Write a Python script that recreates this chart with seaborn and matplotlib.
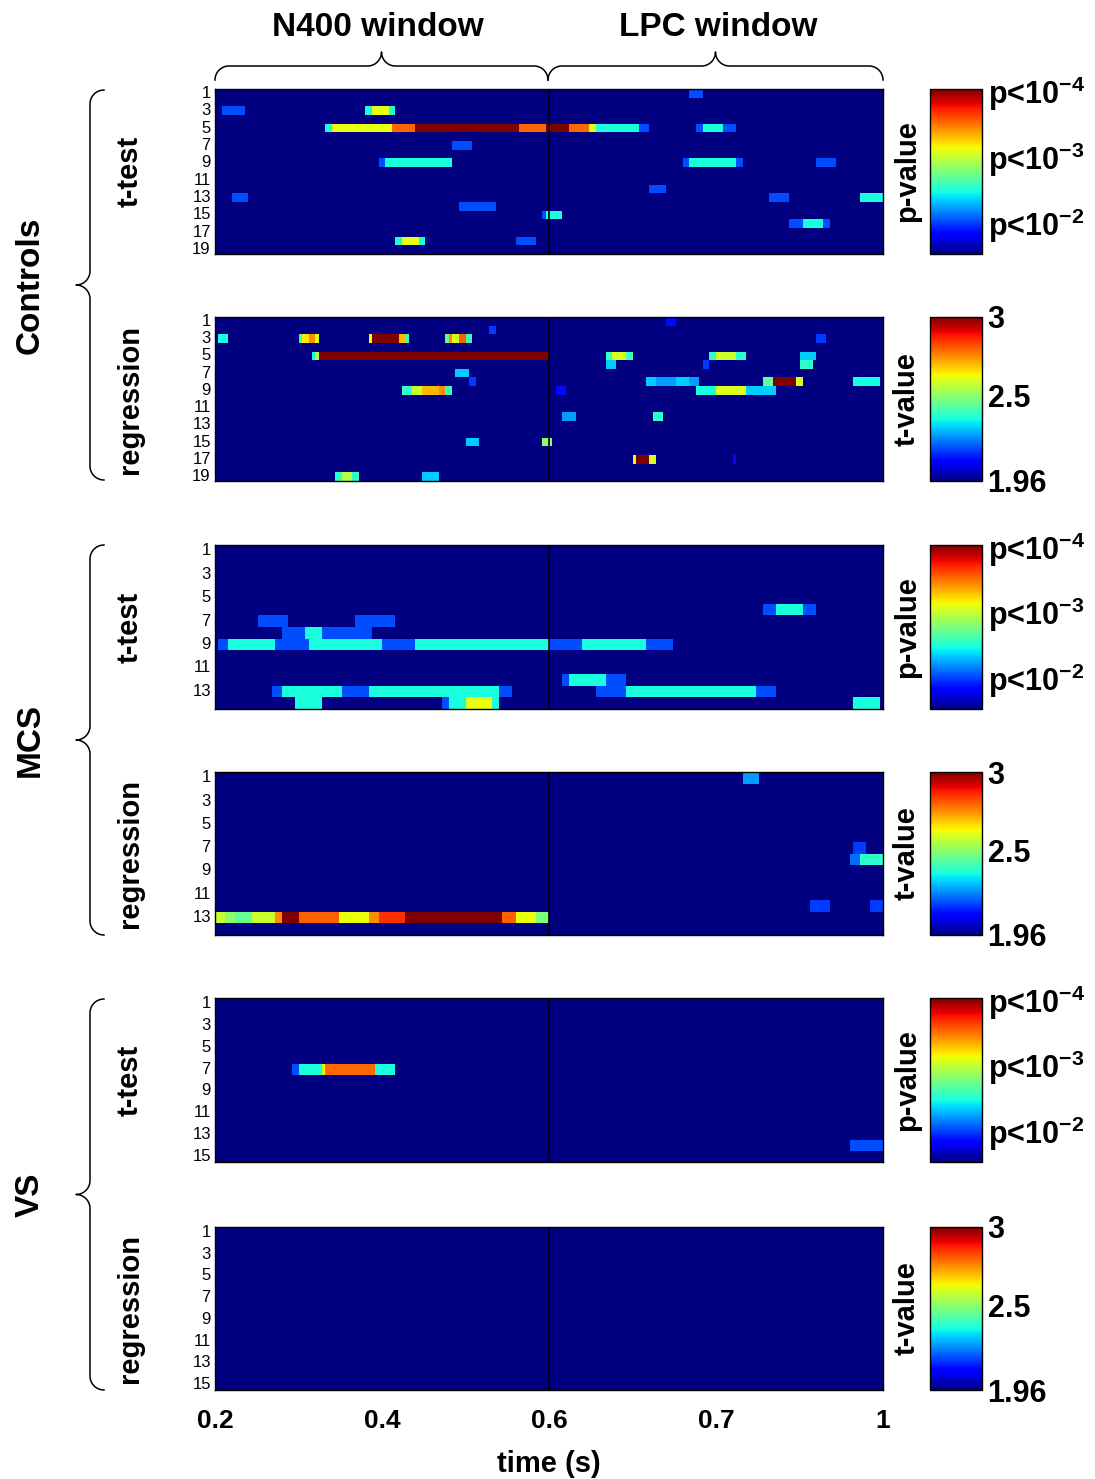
import numpy as np
import pandas as pd
import seaborn as sns
import matplotlib.pyplot as plt

# Significant samples per subject: (subject, t_start [s], t_end [s], value)
# t-test panels: value = -log10(p); regression panels: value = t-value
ctrl_ttest_segs = [
    (1, 0.683, 0.693, 2.0),
    (3, 0.208, 0.236, 2.0), (3, 0.379, 0.388, 2.45), (3, 0.388, 0.409, 3.08), (3, 0.409, 0.418, 2.45),
    (5, 0.332, 0.340, 2.45), (5, 0.340, 0.413, 3.08), (5, 0.413, 0.441, 3.5), (5, 0.441, 0.564, 4.0),
    (5, 0.564, 0.596, 3.5), (5, 0.596, 0.612, 4.0), (5, 0.612, 0.6245, 3.5), (5, 0.6245, 0.628, 3.08),
    (5, 0.628, 0.653, 2.45), (5, 0.653, 0.660, 2.0),
    (5, 0.689, 0.693, 2.0), (5, 0.693, 0.703, 2.45), (5, 0.703, 0.711, 2.0),
    (7, 0.485, 0.509, 2.0),
    (9, 0.397, 0.405, 2.0), (9, 0.405, 0.483, 2.45),
    (9, 0.679, 0.683, 2.0), (9, 0.683, 0.713, 2.45), (9, 0.713, 0.717, 2.0), (9, 0.759, 0.771, 2.0),
    (12, 0.659, 0.670, 2.0),
    (13, 0.221, 0.241, 2.0), (13, 0.733, 0.745, 2.0), (13, 0.786, 0.799, 2.45),
    (14, 0.491, 0.534, 2.0),
    (15, 0.591, 0.595, 2.0), (15, 0.595, 0.607, 2.45),
    (16, 0.743, 0.751, 2.0), (16, 0.751, 0.765, 2.45), (16, 0.765, 0.769, 2.0),
    (18, 0.417, 0.425, 2.45), (18, 0.425, 0.445, 3.08), (18, 0.445, 0.451, 2.45),
    (18, 0.561, 0.585, 2.0),
]

ctrl_regr_segs = [
    (1, 0.670, 0.675, 2.1),
    (2, 0.529, 0.536, 2.15),
    (3, 0.206, 0.218, 2.35),
    (3, 0.301, 0.305, 2.4), (3, 0.305, 0.312, 2.65), (3, 0.312, 0.320, 2.75), (3, 0.320, 0.325, 2.6),
    (3, 0.383, 0.388, 2.6), (3, 0.388, 0.420, 3.0), (3, 0.420, 0.428, 2.7), (3, 0.428, 0.433, 2.4),
    (3, 0.476, 0.480, 2.45), (3, 0.480, 0.486, 2.75), (3, 0.486, 0.492, 2.6), (3, 0.492, 0.500, 2.8),
    (3, 0.500, 0.508, 2.4),
    (3, 0.760, 0.766, 2.15),
    (5, 0.317, 0.321, 2.35), (5, 0.321, 0.325, 2.55), (5, 0.325, 0.600, 3.0),
    (5, 0.633, 0.637, 2.4), (5, 0.637, 0.645, 2.6), (5, 0.645, 0.649, 2.4),
    (5, 0.695, 0.701, 2.38), (5, 0.701, 0.712, 2.58), (5, 0.712, 0.718, 2.38),
    (5, 0.750, 0.760, 2.3),
    (6, 0.634, 0.640, 2.3), (6, 0.692, 0.697, 2.15), (6, 0.750, 0.758, 2.38),
    (7, 0.490, 0.504, 2.3),
    (8, 0.504, 0.512, 2.15),
    (8, 0.658, 0.664, 2.3), (8, 0.664, 0.676, 2.25), (8, 0.676, 0.684, 2.3), (8, 0.684, 0.690, 2.25),
    (8, 0.729, 0.734, 2.45), (8, 0.734, 0.748, 3.0), (8, 0.748, 0.751, 2.6),
    (8, 0.781, 0.797, 2.35),
    (9, 0.425, 0.437, 2.38), (9, 0.437, 0.449, 2.58), (9, 0.449, 0.469, 2.7), (9, 0.469, 0.477, 2.75),
    (9, 0.477, 0.485, 2.4),
    (9, 0.604, 0.610, 2.1), (9, 0.689, 0.700, 2.35), (9, 0.700, 0.718, 2.6), (9, 0.718, 0.735, 2.3),
    (12, 0.608, 0.616, 2.25), (12, 0.661, 0.668, 2.38),
    (15, 0.502, 0.517, 2.3), (15, 0.594, 0.602, 2.5),
    (17, 0.649, 0.652, 2.6), (17, 0.652, 0.660, 3.0), (17, 0.660, 0.663, 2.6), (17, 0.710, 0.713, 2.1),
    (19, 0.345, 0.353, 2.38), (19, 0.353, 0.365, 2.55), (19, 0.365, 0.373, 2.38),
    (19, 0.449, 0.469, 2.3),
]

mcs_ttest_segs = [
    (6, 0.729, 0.737, 2.0), (6, 0.737, 0.751, 2.45), (6, 0.751, 0.759, 2.0),
    (7, 0.253, 0.288, 2.0), (7, 0.369, 0.416, 2.0),
    (8, 0.278, 0.309, 2.0), (8, 0.309, 0.329, 2.45), (8, 0.329, 0.388, 2.0),
    (9, 0.205, 0.217, 2.0), (9, 0.217, 0.272, 2.45), (9, 0.272, 0.312, 2.0), (9, 0.312, 0.401, 2.45),
    (9, 0.401, 0.441, 2.0), (9, 0.441, 0.600, 2.45), (9, 0.600, 0.619, 2.0), (9, 0.619, 0.657, 2.45),
    (9, 0.657, 0.674, 2.0),
    (12, 0.609, 0.611, 2.0), (12, 0.611, 0.633, 2.45), (12, 0.633, 0.645, 2.0),
    (13, 0.269, 0.281, 2.0), (13, 0.281, 0.353, 2.45), (13, 0.353, 0.385, 2.0), (13, 0.385, 0.541, 2.45),
    (13, 0.541, 0.556, 2.0), (13, 0.627, 0.645, 2.0), (13, 0.645, 0.725, 2.45), (13, 0.725, 0.737, 2.0),
    (14, 0.297, 0.329, 2.45), (14, 0.473, 0.481, 2.0), (14, 0.481, 0.501, 2.45), (14, 0.501, 0.533, 3.08),
    (14, 0.533, 0.541, 2.45), (14, 0.781, 0.797, 2.45),
]

mcs_regr_segs = [
    (1, 0.716, 0.726, 2.25),
    (7, 0.781, 0.790, 2.15),
    (8, 0.780, 0.785, 2.2), (8, 0.785, 0.800, 2.38),
    (12, 0.757, 0.767, 2.15), (12, 0.792, 0.800, 2.15),
    (13, 0.200, 0.212, 2.58), (13, 0.212, 0.224, 2.5), (13, 0.224, 0.245, 2.45), (13, 0.245, 0.272, 2.58),
    (13, 0.272, 0.280, 2.75), (13, 0.280, 0.302, 3.0), (13, 0.302, 0.348, 2.8), (13, 0.348, 0.385, 2.62),
    (13, 0.385, 0.396, 2.75), (13, 0.396, 0.428, 2.85), (13, 0.428, 0.542, 3.0), (13, 0.542, 0.558, 2.8),
    (13, 0.558, 0.585, 2.62), (13, 0.585, 0.600, 2.48),
]

vs_ttest_segs = [
    (7, 0.293, 0.301, 2.0), (7, 0.301, 0.326, 2.45), (7, 0.326, 0.333, 3.08), (7, 0.333, 0.390, 3.5),
    (7, 0.390, 0.394, 3.08), (7, 0.394, 0.417, 2.45),
    (14, 0.780, 0.800, 2.0),
]

vs_regr_segs = []

n_subjects = {"Controls": 19, "MCS": 14, "VS": 15}

tick_times = [0.2, 0.4, 0.6, 0.7, 0.8]
tick_labels = ["0.2", "0.4", "0.6", "0.7", "1"]

p_ticks = [2, 3, 4]
p_ticklabels = [r"p<10$^{\mathbf{-2}}$", r"p<10$^{\mathbf{-3}}$", r"p<10$^{\mathbf{-4}}$"]
t_ticks = [1.96, 2.5, 3]
t_ticklabels = ["1.96", "2.5", "3"]

# ---- style ----
W, H = 1095, 1479
plt.rcParams['font.family'] = ['Liberation Sans', 'DejaVu Sans']
plt.rcParams['mathtext.fontset'] = 'custom'
plt.rcParams['mathtext.rm'] = 'Liberation Sans'
plt.rcParams['mathtext.bf'] = 'Liberation Sans:bold'

n_bins = 100  # bins per window (N400: 0.2-0.6 s, LPC: 0.6-0.8 s)


def time_to_col(t):
    if t <= 0.6 + 1e-9:
        return (t - 0.2) / 0.4 * n_bins
    return n_bins + (t - 0.6) / 0.2 * n_bins


def build_matrix(n_subj, segs, base):
    mat = np.full((n_subj, 2 * n_bins), base, dtype=float)
    for subj, t0, t1, val in segs:
        c0 = int(round(time_to_col(t0)))
        c1 = max(int(round(time_to_col(t1))), c0 + 1)
        mat[subj - 1, c0:c1] = val
    return pd.DataFrame(mat, index=np.arange(1, n_subj + 1))


def brace(ax, pos, a0, a1, r, horizontal=False):
    # curly brace: ends hook towards +offset, tip points towards -offset
    am = (a0 + a1) / 2
    t = np.linspace(0, np.pi / 2, 30)
    off1 = pos + r - r * np.sin(t)
    al1 = a0 + r - r * np.cos(t)
    off2 = pos - r + r * np.cos(t)
    al2 = am - r + r * np.sin(t)
    off = np.concatenate([off1, off2])
    al = np.concatenate([al1, al2])
    off = np.concatenate([off, off[::-1]])
    al = np.concatenate([al, (a0 + a1 - al)[::-1]])
    if horizontal:
        ax.plot(al, off, color='black', lw=1.1)
    else:
        ax.plot(off, al, color='black', lw=1.1)


fig = plt.figure(figsize=(W / 100, H / 100), dpi=100)

panels = [
    (ctrl_ttest_segs, "Controls", "ttest", 89, 254),
    (ctrl_regr_segs, "Controls", "regr", 317, 481),
    (mcs_ttest_segs, "MCS", "ttest", 545, 709),
    (mcs_regr_segs, "MCS", "regr", 772, 935),
    (vs_ttest_segs, "VS", "ttest", 998, 1162),
    (vs_regr_segs, "VS", "regr", 1227, 1390),
]

ov = fig.add_axes([0, 0, 1, 1])
ov.set_xlim(0, W)
ov.set_ylim(H, 0)
ov.axis('off')

for i, (segs, group, kind, y0, y1) in enumerate(panels):
    ax = fig.add_axes([215 / W, 1 - y1 / H, 668 / W, (y1 - y0) / H])
    cax = fig.add_axes([930 / W, 1 - y1 / H, 52 / W, (y1 - y0) / H])
    if kind == "ttest":
        vmin, vmax, ticks, labels, clabel = 1.5, 4.0, p_ticks, p_ticklabels, "p-value"
    else:
        vmin, vmax, ticks, labels, clabel = 1.96, 3.0, t_ticks, t_ticklabels, "t-value"
    df = build_matrix(n_subjects[group], segs, vmin)
    sns.heatmap(df, ax=ax, cmap='jet', vmin=vmin, vmax=vmax, cbar_ax=cax,
                xticklabels=False, yticklabels=2)
    ax.axvline(n_bins, color='black', lw=1.2)
    for sp in ax.spines.values():
        sp.set_visible(True)
        sp.set_color('black')
        sp.set_linewidth(1)
    ax.tick_params(axis='y', length=0, pad=3, labelsize=12, labelrotation=0)
    ax.set_ylabel('')

    cbar = ax.collections[0].colorbar
    cbar.set_ticks(ticks)
    cbar.set_ticklabels(labels)
    cbar.ax.tick_params(length=0, labelsize=22, pad=4)
    for lab in cbar.ax.get_yticklabels():
        lab.set_fontweight('bold')
    cbar.outline.set_edgecolor('black')
    cbar.outline.set_linewidth(1)

    yc = (y0 + y1) / 2
    ov.text(907, yc, clabel, rotation=90, ha='center', va='center', fontsize=21, fontweight='bold')
    ov.text(130, yc, "t-test" if kind == "ttest" else "regression", rotation=90,
            ha='center', va='center', fontsize=21, fontweight='bold')

    if i == len(panels) - 1:
        ax.set_xticks([time_to_col(t) for t in tick_times])
        ax.set_xticklabels(tick_labels, fontsize=19, fontweight='bold', rotation=0)
        ax.tick_params(axis='x', length=0, pad=14)
        ax.set_xlabel('time (s)', fontsize=21, fontweight='bold', labelpad=12)

# group labels and braces
for group, ytop, ybot in [("Controls", 90, 480), ("MCS", 545, 935), ("VS", 999, 1390)]:
    brace(ov, 90, ytop, ybot, 14)
    ov.text(30, (ytop + ybot) / 2, group, rotation=90, ha='center', va='center',
            fontsize=24, fontweight='bold')

# window braces
brace(ov, 66, 215, 548, 14, horizontal=True)
brace(ov, 66, 548, 883, 14, horizontal=True)
ov.text(378, 28, "N400 window", ha='center', va='center', fontsize=24, fontweight='bold')
ov.text(718, 28, "LPC window", ha='center', va='center', fontsize=24, fontweight='bold')

fig.savefig('out.png', dpi=100)
